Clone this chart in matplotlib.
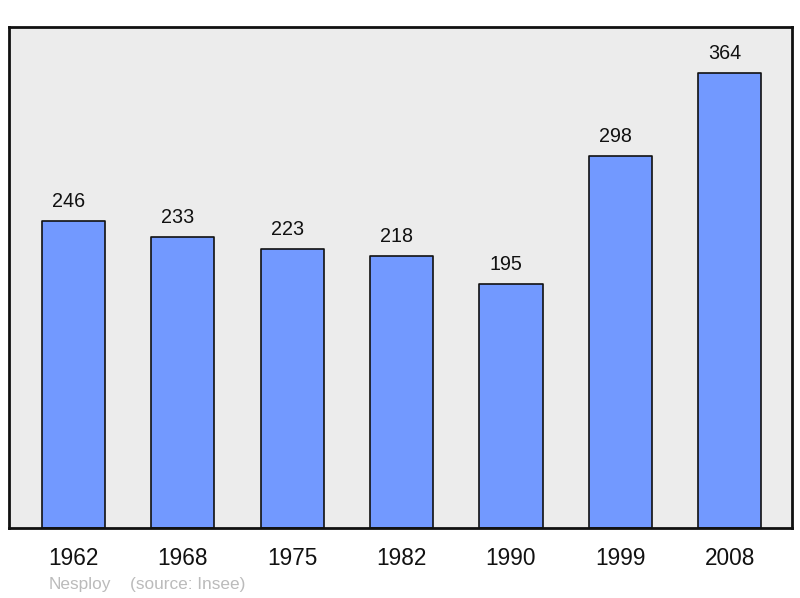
import matplotlib
matplotlib.use("Agg")
import matplotlib.pyplot as plt

years = ["1962", "1968", "1975", "1982", "1990", "1999", "2008"]
population = [246, 233, 223, 218, 195, 298, 364]

plt.rcParams['font.family'] = ['Liberation Sans', 'DejaVu Sans']

fig = plt.figure(figsize=(8, 5.98), dpi=100)
ax = fig.add_axes([9/800, 70/598, 783/800, 501/598])
ax.set_facecolor('#ececec')
x = list(range(len(years)))
bars = ax.bar(x, population, width=0.577, color='#7299ff', edgecolor='#111111',
              linewidth=1.2, joinstyle='round', zorder=2)
ax.set_xlim(-0.59, 6.57)
ax.set_ylim(0, 400.8)
ax.set_yticks([])
ax.set_xticks(x)
ax.set_xticklabels(years, fontsize=16.3, color='#111111')
ax.tick_params(axis='x', length=0, pad=14)
for lbl in ax.get_xticklabels():
    lbl.set_x(lbl.get_position()[0])
for s in ax.spines.values():
    s.set_linewidth(2)
    s.set_color('#111111')
    s.set_joinstyle('round')
for xi, v in zip(x, population):
    ax.annotate(str(v), (xi, v), xytext=(-3.5, 14), textcoords='offset points',
                ha='center', va='center', fontsize=14.2, color='#111111')
fig.text(49/800, 1 - 584/598, "Nesploy", fontsize=12.4,
         color='#bbbbbb', ha='left', va='center')
fig.text(130/800, 1 - 584/598, "(source: Insee)", fontsize=12.4,
         color='#bbbbbb', ha='left', va='center')
fig.savefig("out.png", dpi=100)
